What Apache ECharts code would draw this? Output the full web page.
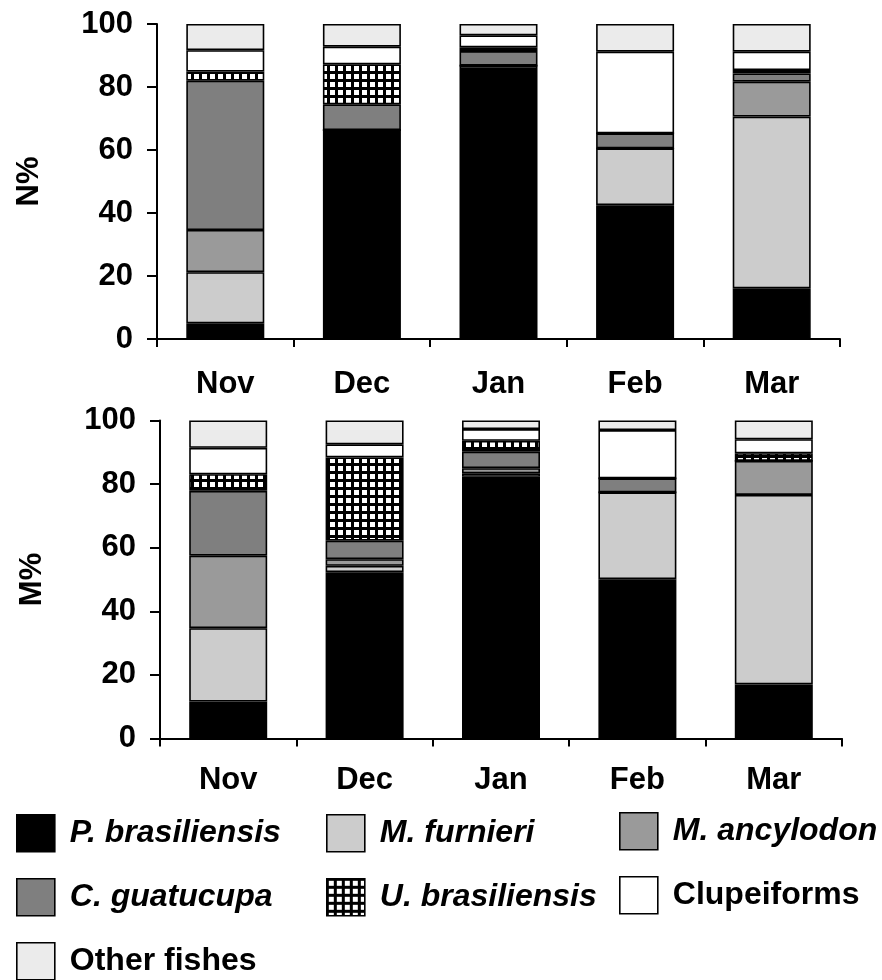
<!DOCTYPE html>
<html>
<head>
<meta charset="utf-8">
<script src="https://cdn.jsdelivr.net/npm/echarts@6/dist/echarts.min.js"></script>
<style>
html,body{margin:0;padding:0;background:#fff;}
#chart{width:882px;height:980px;}
</style>
</head>
<body>
<div id="chart"></div>
<script>
// ---- data ----
const categories = ['Nov', 'Dec', 'Jan', 'Feb', 'Mar'];
const speciesNames = ['P. brasiliensis', 'M. furnieri', 'M. ancylodon', 'C. guatucupa', 'U. brasiliensis', 'Clupeiforms', 'Other fishes'];
const italicNames = ['P. brasiliensis', 'M. furnieri', 'M. ancylodon', 'C. guatucupa', 'U. brasiliensis'];
const yTicks = [0, 20, 40, 60, 80, 100];

// N% (upper panel)
const pbN = [5.0, 66.3, 85.7, 42.5, 16.1];
const mfN = [16.2, 0, 1.1, 18.0, 54.5];
const maN = [13.4, 0, 0, 0, 11.1];
const cgN = [47.4, 8.2, 4.6, 4.8, 2.6];
const ubN = [2.9, 12.7, 1.2, 0, 1.1];
const clN = [6.8, 5.6, 3.8, 25.9, 5.8];
const otN = [8.3, 7.2, 3.6, 8.8, 8.8];

// M% (lower panel)
const pbM = [11.6, 52.3, 82.3, 50.1, 17.0];
const mfM = [23.1, 2.0, 1.1, 27.3, 59.6];
const maM = [22.8, 2.1, 1.6, 0, 10.7];
const cgM = [20.4, 5.8, 5.2, 4.4, 0];
const ubM = [5.2, 26.2, 3.4, 0, 2.4];
const clM = [8.3, 4.1, 3.7, 15.2, 4.4];
const otM = [8.6, 7.5, 2.7, 3.0, 5.9];

const nData = [pbN, mfN, maN, cgN, ubN, clN, otN];
const mData = [pbM, mfM, maM, cgM, ubM, clM, otM];

// ---- styles ----
const FONT = '"Liberation Sans", Arial, sans-serif';
const FS = 31;
const pat = document.createElement('canvas');
pat.width = 8; pat.height = 8;
const pctx = pat.getContext('2d');
pctx.fillStyle = '#000'; pctx.fillRect(0, 0, 8, 8);
pctx.fillStyle = '#fff'; pctx.fillRect(2, 2, 5, 5);
const fills = ['#000000', '#cccccc', '#9a9a9a', '#7f7f7f', {image: pat, repeat: 'repeat'}, '#ffffff', '#ebebeb'];

const chart = echarts.init(document.getElementById('chart'), null, {renderer: 'canvas'});

function xAxis(gi, margin) {
  return {
    type: 'category', gridIndex: gi, data: categories,
    axisLine: {lineStyle: {color: '#000', width: 2}},
    axisTick: {show: true, length: 8, lineStyle: {color: '#000', width: 2}},
    axisLabel: {margin: margin, color: '#000', fontSize: FS, fontWeight: 'bold', fontFamily: FONT, lineHeight: 28}
  };
}
function yAxis(gi, name) {
  return {
    type: 'value', gridIndex: gi, min: 0, max: 100, interval: 20,
    name: name, nameLocation: 'middle', nameGap: 112, nameRotate: 90,
    nameTextStyle: {color: '#000', fontSize: FS, fontWeight: 'bold', fontFamily: FONT},
    axisLine: {show: true, lineStyle: {color: '#000', width: 2}},
    axisTick: {show: true, length: 10, lineStyle: {color: '#000', width: 2}},
    axisLabel: {margin: 24, color: '#000', fontSize: FS, fontWeight: 'bold', fontFamily: FONT,
      formatter: v => yTicks.includes(v) ? String(v) : ''},
    splitLine: {show: false}
  };
}

const series = [];
speciesNames.forEach((nm, i) => {
  series.push({
    name: nm, type: 'bar', stack: 'N', xAxisIndex: 0, yAxisIndex: 0, barWidth: 78,
    data: nData[i],
    itemStyle: {color: fills[i], borderColor: '#000', borderWidth: 1.6},
    emphasis: {disabled: true}, animation: false
  });
  series.push({
    name: nm, type: 'bar', stack: 'M', xAxisIndex: 1, yAxisIndex: 1, barWidth: 78,
    data: mData[i],
    itemStyle: {color: fills[i], borderColor: '#000', borderWidth: 1.6},
    emphasis: {disabled: true}, animation: false
  });
});

// legend placement: [name, left, top]
const legendPos = [
  ['P. brasiliensis', 16, 814], ['M. furnieri', 326, 814], ['M. ancylodon', 619, 812],
  ['C. guatucupa', 16, 878], ['U. brasiliensis', 326, 878], ['Clupeiforms', 619, 876],
  ['Other fishes', 16, 942]
];
function legend(name, left, top) {
  return {
    orient: 'horizontal', left: left, top: top, itemWidth: 38, itemHeight: 37,
    data: [{name: name, icon: 'rect'}], selectedMode: false, padding: 0,
    itemStyle: {borderColor: '#000', borderWidth: 1.6},
    formatter: n => italicNames.includes(n) ? '{i|' + n + '}' : '{n|' + n + '}',
    textStyle: {
      color: '#000', fontFamily: FONT, fontSize: 32, fontWeight: 'bold',
      rich: {
        i: {fontStyle: 'italic', fontWeight: 'bold', fontSize: 32, fontFamily: FONT, color: '#000', padding: [0, 0, 0, 10]},
        n: {fontWeight: 'bold', fontSize: 32, fontFamily: FONT, color: '#000', padding: [0, 0, 0, 10]}
      }
    }
  };
}

chart.setOption({
  animation: false,
  backgroundColor: '#fff',
  grid: [
    {left: 157, top: 24, width: 683, height: 315, containLabel: false, outerBoundsMode: 'none'},
    {left: 160, top: 420.5, width: 682, height: 318, containLabel: false, outerBoundsMode: 'none'}
  ],
  xAxis: [xAxis(0, 31), xAxis(1, 28)],
  yAxis: [yAxis(0, 'N%'), yAxis(1, 'M%')],
  legend: legendPos.map(p => legend(p[0], p[1], p[2])),
  series: series
});
</script>
</body>
</html>
